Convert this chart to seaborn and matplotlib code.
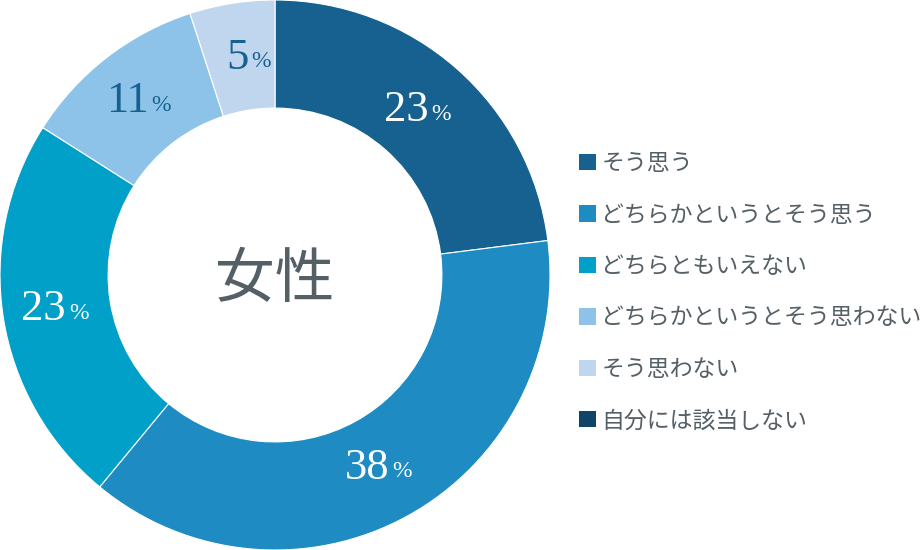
import numpy as np
import matplotlib
matplotlib.use("Agg")
import matplotlib.pyplot as plt
from matplotlib.patches import Patch
import seaborn as sns

# Data
categories = [
    "そう思う",
    "どちらかというとそう思う",
    "どちらともいえない",
    "どちらかというとそう思わない",
    "そう思わない",
    "自分には該当しない",
]
values = [23, 38, 23, 11, 5, 0]
colors = ["#16618f", "#1f8bc3", "#00a0c8", "#8ec3e9", "#c0d5ee", "#0f4469"]
label_colors = ["white", "white", "white", "#16618f", "#16618f", "#16618f"]
center_title = "女性"

sns.set_theme(style="white")
plt.rcParams["font.family"] = ["Noto Sans CJK JP", "DejaVu Sans"]

fig = plt.figure(figsize=(9.22, 5.5), dpi=100)
ax = fig.add_axes([0, 0, 550 / 922, 1])

shown = [i for i, v in enumerate(values) if v > 0]
wedges, _ = ax.pie(
    [values[i] for i in shown],
    colors=[colors[i] for i in shown],
    startangle=90,
    counterclock=False,
    radius=1.0,
    wedgeprops=dict(width=0.393, edgecolor="white", linewidth=0.8),
)
ax.set_xlim(-1, 1)
ax.set_ylim(-1, 1)
ax.set_aspect("equal")
ax.axis("off")

# percentage labels at ring midpoints
r_lab = 0.80
for w, i in zip(wedges, shown):
    ang = np.deg2rad((w.theta1 + w.theta2) / 2)
    x, y = r_lab * np.cos(ang), r_lab * np.sin(ang)
    ax.annotate(str(values[i]), (x, y), xytext=(6, 0), textcoords="offset points",
                ha="right", va="center", fontsize=32, color=label_colors[i],
                family="Liberation Serif")
    ax.annotate("%", (x, y), xytext=(8, -3), textcoords="offset points",
                ha="left", va="center", fontsize=17, color=label_colors[i],
                family="Liberation Serif")

ax.text(0, -0.02, center_title, ha="center", va="center", fontsize=43, color="#555f66")

handles = [Patch(facecolor=c, edgecolor="none") for c in colors]
leg = fig.legend(
    handles, categories,
    loc="upper left", bbox_to_anchor=(570 / 922, 1 - 143 / 550),
    frameon=False, fontsize=16.5, handlelength=0.72, handleheight=0.72,
    handletextpad=0.25, labelspacing=1.24, borderaxespad=0,
)
for t in leg.get_texts():
    t.set_color("#555f66")

fig.savefig("out.png", dpi=100)
